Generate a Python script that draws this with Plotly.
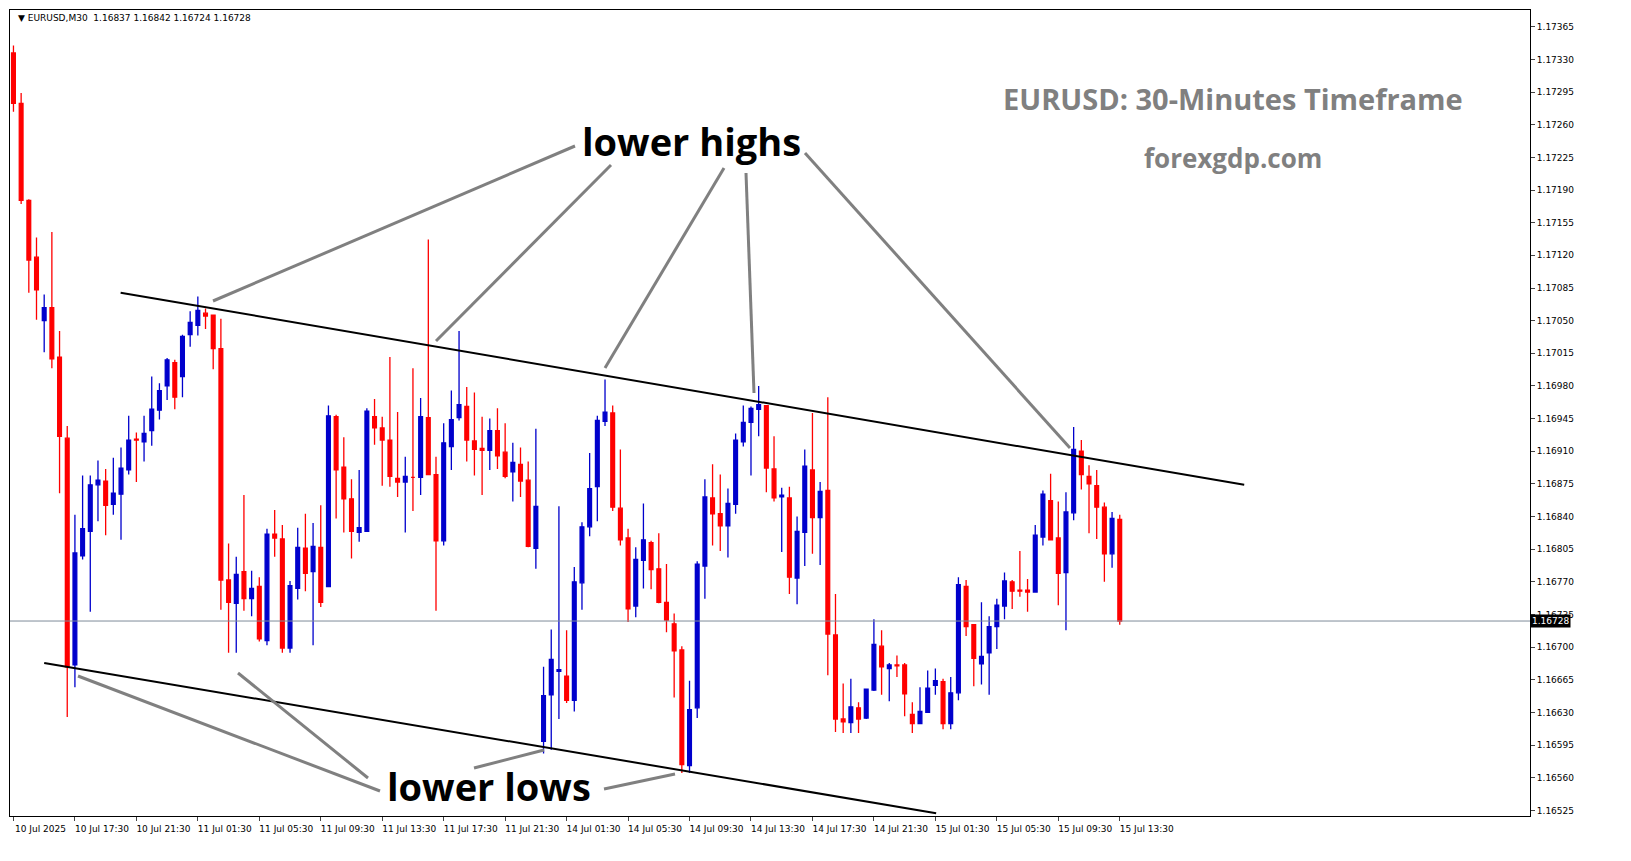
import numpy as np
import plotly.graph_objects as go

# OHLC in 1e-5 price units, 30-minute candles
opens = [117337, 117283, 117179, 117118, 117050, 117064, 117011, 116924, 116681, 116798,
         116824, 116874, 116878, 116853, 116864, 116890, 116923, 116920, 116932, 116954,
         116980, 117005, 116990, 117035, 117045, 117058, 117056, 117020, 116772, 116747,
         116781, 116752, 116765, 116707, 116821, 116816, 116699, 116763, 116806, 116781,
         116807, 116765, 116947, 116893, 116859, 116823, 116824, 116947, 116935, 116922,
         116881, 116877, 116882, 116882, 116946, 116885, 116814, 116915, 116946, 116958,
         116921, 116913, 116911, 116932, 116909, 116888, 116896, 116879, 116806, 116599,
         116649, 116674, 116669, 116643, 116769, 116829, 116872, 116942, 116951, 116849,
         116817, 116744, 116793, 116812, 116784, 116748, 116725, 116697, 116573, 116635,
         116787, 116860, 116843, 116830, 116853, 116920, 116941, 116955, 116959, 116891,
         116861, 116860, 116774, 116823, 116890, 116839, 116868, 116713, 116623, 116619,
         116635, 116624, 116654, 116701, 116677, 116681, 116681, 116628, 116618, 116630,
         116659, 116663, 116618, 116651, 116765, 116724, 116682, 116694, 116722, 116744,
         116770, 116761, 116761, 116759, 116818, 116857, 116817, 116780, 116844, 116910,
         116883, 116873, 116850, 116800, 116837]
highs = [117345, 117294, 117180, 117139, 117078, 117145, 117039, 116937, 116842, 116884,
         116884, 116900, 116891, 116903, 116914, 116948, 116930, 116948, 116990, 116983,
         117010, 117008, 117035, 117060, 117076, 117063, 117056, 117052, 116811, 116797,
         116863, 116782, 116775, 116827, 116847, 116831, 116771, 116828, 116843, 116833,
         116852, 116959, 116949, 116925, 116880, 116890, 116956, 116966, 116947, 117011,
         116952, 116904, 116999, 116967, 117137, 116904, 116940, 116975, 117039, 116979,
         116973, 116947, 116945, 116956, 116940, 116919, 116914, 116899, 116934, 116679,
         116719, 116851, 116718, 116786, 116834, 116908, 116948, 116987, 116959, 116912,
         116827, 116807, 116854, 116814, 116822, 116789, 116736, 116701, 116664, 116792,
         116880, 116896, 116885, 116870, 116929, 116959, 116958, 116980, 116959, 116926,
         116871, 116872, 116840, 116912, 116951, 116877, 116968, 116757, 116661, 116666,
         116641, 116655, 116730, 116718, 116683, 116691, 116683, 116641, 116657, 116675,
         116677, 116666, 116668, 116775, 116772, 116724, 116748, 116733, 116752, 116780,
         116772, 116803, 116773, 116831, 116868, 116886, 116856, 116866, 116936, 116922,
         116895, 116890, 116855, 116845, 116842]
lows = [117274, 117175, 117080, 117051, 117016, 116999, 116865, 116625, 116657, 116794,
        116738, 116835, 116820, 116842, 116815, 116885, 116877, 116899, 116916, 116944,
        116965, 116955, 116968, 117022, 117034, 117041, 116998, 116740, 116694, 116694,
        116739, 116733, 116706, 116702, 116797, 116694, 116694, 116751, 116760, 116702,
        116743, 116765, 116838, 116823, 116795, 116813, 116824, 116917, 116873, 116872,
        116861, 116823, 116846, 116863, 116946, 116739, 116809, 116890, 116943, 116899,
        116884, 116863, 116890, 116891, 116881, 116856, 116861, 116807, 116784, 116586,
        116590, 116623, 116640, 116631, 116740, 116819, 116835, 116937, 116846, 116809,
        116727, 116732, 116763, 116762, 116747, 116716, 116646, 116565, 116565, 116624,
        116752, 116809, 116803, 116796, 116843, 116915, 116884, 116926, 116866, 116856,
        116802, 116757, 116746, 116787, 116800, 116788, 116670, 116609, 116608, 116608,
        116608, 116623, 116653, 116649, 116642, 116668, 116626, 116608, 116618, 116630,
        116649, 116612, 116612, 116643, 116712, 116658, 116660, 116649, 116698, 116730,
        116741, 116754, 116738, 116759, 116809, 116815, 116745, 116718, 116836, 116869,
        116822, 116816, 116770, 116785, 116724]
closes = [117283, 117179, 117115, 117083, 117064, 117009, 116926, 116679, 116801, 116827,
          116874, 116879, 116852, 116865, 116892, 116922, 116922, 116929, 116955, 116975,
          117008, 116968, 117033, 117048, 117061, 117055, 117020, 116772, 116748, 116778,
          116752, 116763, 116709, 116821, 116817, 116699, 116766, 116807, 116779, 116808,
          116748, 116948, 116890, 116859, 116824, 116828, 116953, 116935, 116922, 116883,
          116877, 116883, 116882, 116947, 116885, 116814, 116919, 116944, 116960, 116922,
          116912, 116911, 116932, 116905, 116883, 116898, 116878, 116808, 116851, 116648,
          116687, 116676, 116643, 116770, 116829, 116870, 116943, 116952, 116850, 116815,
          116741, 116794, 116815, 116783, 116748, 116729, 116696, 116574, 116633, 116789,
          116861, 116843, 116830, 116854, 116922, 116941, 116956, 116960, 116892, 116860,
          116863, 116775, 116824, 116894, 116839, 116867, 116714, 116623, 116620, 116636,
          116623, 116655, 116703, 116679, 116681, 116680, 116650, 116618, 116631, 116656,
          116664, 116618, 116651, 116767, 116722, 116688, 116690, 116722, 116745, 116771,
          116760, 116760, 116759, 116820, 116864, 116815, 116779, 116845, 116912, 116885,
          116875, 116850, 116800, 116838, 116728]

time_labels = ["10 Jul 2025", "10 Jul 17:30", "10 Jul 21:30", "11 Jul 01:30", "11 Jul 05:30",
               "11 Jul 09:30", "11 Jul 13:30", "11 Jul 17:30", "11 Jul 21:30", "14 Jul 01:30",
               "14 Jul 05:30", "14 Jul 09:30", "14 Jul 13:30", "14 Jul 17:30", "14 Jul 21:30",
               "15 Jul 01:30", "15 Jul 05:30", "15 Jul 09:30", "15 Jul 13:30"]
price_ticks = [1.16525, 1.16560, 1.16595, 1.16630, 1.16665, 1.16700, 1.16735, 1.16770,
               1.16805, 1.16840, 1.16875, 1.16910, 1.16945, 1.16980, 1.17015, 1.17050,
               1.17085, 1.17120, 1.17155, 1.17190, 1.17225, 1.17260, 1.17295, 1.17330, 1.17365]
last_price = 1.16728

# channel lines (bar index, price)
upper_x = [13.95, 160.2]
upper_y = [1.17080, 1.16874]
lower_x = [4.0, 120.1]
lower_y = [1.16683, 1.16522]

o = np.array(opens) / 1e5
h = np.array(highs) / 1e5
l = np.array(lows) / 1e5
c = np.array(closes) / 1e5
idx = np.arange(len(o))

fig = go.Figure()
fig.add_trace(go.Candlestick(
    x=idx, open=o, high=h, low=l, close=c,
    increasing=dict(line=dict(color="#0000cc", width=1.3), fillcolor="#0000cc"),
    decreasing=dict(line=dict(color="#ff0000", width=1.3), fillcolor="#ff0000"),
    whiskerwidth=0, showlegend=False, hoverinfo="skip"))

fig.add_trace(go.Scatter(x=upper_x, y=upper_y, mode="lines",
                         line=dict(color="black", width=2), showlegend=False))
fig.add_trace(go.Scatter(x=lower_x, y=lower_y, mode="lines",
                         line=dict(color="black", width=2), showlegend=False))
fig.add_hline(y=last_price, line=dict(color="#7f8c99", width=1))

W, H = 1631, 861
ML, MR, MT, MB = 2, 109, 2, 53


def px(x, y):
    # pixel position -> paper coords
    return (x - ML) / (W - ML - MR), 1 - (y - MT) / (H - MT - MB)


pointer_lines = [((567, 138), (205, 293)), ((603, 157), (428, 333)),
                 ((716, 160), (597, 360)), ((738, 165), (746, 385)),
                 ((797, 145), (1062, 440)),
                 ((372, 783), (70, 668)), ((360, 770), (230, 665)),
                 ((466, 760), (536, 742)), ((596, 781), (667, 766))]
for a, b in pointer_lines:
    x0, y0 = px(*a)
    x1, y1 = px(*b)
    fig.add_shape(type="line", xref="paper", yref="paper", x0=x0, y0=y0, x1=x1, y1=y1,
                  line=dict(color="#808080", width=3))

texts = [("lower highs", 683, 133, 38, "black"), ("lower lows", 481, 778, 38, "black"),
         ("EURUSD: 30-Minutes Timeframe", 1225, 90, 29, "#808080"),
         ("forexgdp.com", 1225, 150, 26, "#808080")]
for t, tx, ty, size, col in texts:
    ax_, ay_ = px(tx, ty)
    fig.add_annotation(text="<b>%s</b>" % t, x=ax_, y=ay_, xref="paper", yref="paper",
                       xanchor="center", yanchor="middle", showarrow=False,
                       font=dict(family="Open Sans", size=size, color=col))

hx, hy = px(8, 10)
fig.add_annotation(text="▼ EURUSD,M30  1.16837 1.16842 1.16724 1.16728", x=hx, y=hy,
                   xref="paper", yref="paper", xanchor="left", yanchor="middle",
                   showarrow=False, font=dict(family="DejaVu Sans", size=9, color="black"))
fig.add_annotation(text="1.16728", x=1, y=last_price, xref="paper", yref="y",
                   xanchor="left", yanchor="middle", showarrow=False, bgcolor="black",
                   font=dict(family="DejaVu Sans", size=9, color="white"), borderpad=1)

fig.update_layout(
    width=W, height=H, margin=dict(l=ML, r=MR, t=MT, b=MB),
    plot_bgcolor="white", paper_bgcolor="white",
    xaxis=dict(rangeslider=dict(visible=False), range=[-0.45, 197.4],
               tickvals=list(range(0, 8 * len(time_labels), 8)), ticktext=time_labels,
               tickangle=0, ticks="outside", ticklen=4, showgrid=False, zeroline=False,
               showline=True, linecolor="black", mirror=True, ticklabelshift=27,
               tickfont=dict(family="DejaVu Sans", size=9, color="black")),
    yaxis=dict(side="right", range=[1.16519, 1.17383], tickvals=price_ticks,
               tickformat=".5f", ticks="outside", ticklen=4, showgrid=False,
               zeroline=False, showline=True, linecolor="black", mirror=True,
               tickfont=dict(family="DejaVu Sans", size=9, color="black")),
)

fig.write_html("out.html")
